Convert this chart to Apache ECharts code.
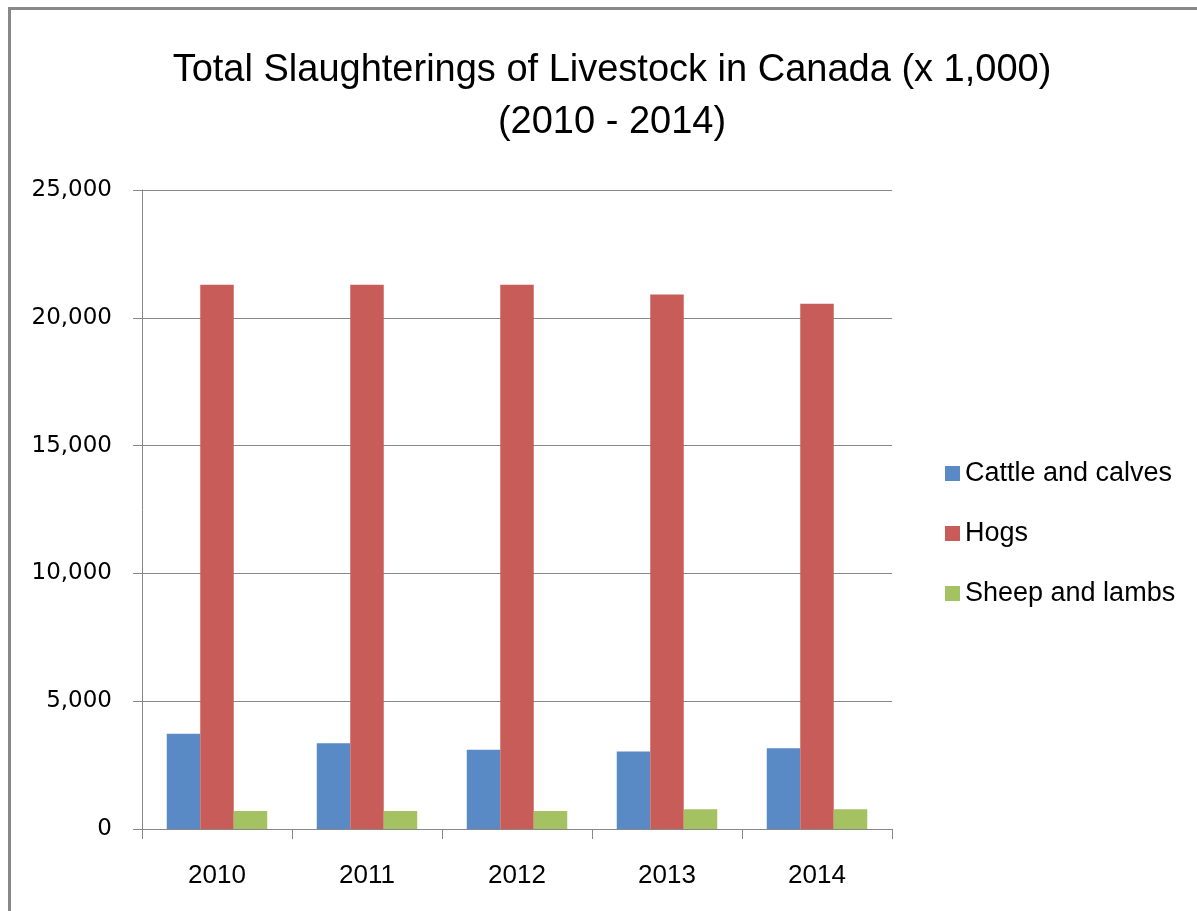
<!DOCTYPE html>
<html>
<head>
<meta charset="utf-8">
<script src="https://cdn.jsdelivr.net/npm/echarts@6/dist/echarts.min.js"></script>
<style>
html, body { margin: 0; padding: 0; background: #fff; }
#main { width: 1197px; height: 911px; }
</style>
</head>
<body>
<div id="main"></div>
<script>
// data (x 1,000 head)
var years = ['2010', '2011', '2012', '2013', '2014'];
var cattle = [3730, 3350, 3105, 3030, 3160];
var hogs = [21290, 21290, 21290, 20910, 20550];
var sheep = [700, 700, 700, 770, 770];
var yTicks = [0, 5000, 10000, 15000, 20000, 25000];

var myChart = echarts.init(document.getElementById('main'));

var font = '"Liberation Sans Narrow", "Liberation Sans", sans-serif';

option = {
    backgroundColor: '#fff',
    animation: false,
    color: ['#5a8ac6', '#c85c58', '#a5c263'],
    title: {
        text: 'Total Slaughterings of Livestock in Canada (x 1,000)\n(2010 - 2014)',
        left: 607,
        textAlign: 'center',
        top: 40,
        textStyle: {
            fontFamily: font,
            fontWeight: 'normal',
            fontSize: 38,
            lineHeight: 52,
            color: '#000'
        }
    },
    legend: {
        orient: 'vertical',
        left: 940,
        top: 455,
        itemWidth: 15,
        itemHeight: 15,
        itemGap: 33,
        icon: 'rect',
        textStyle: { fontFamily: font, fontSize: 27, color: '#000' },
        data: ['Cattle and calves', 'Hogs', 'Sheep and lambs']
    },
    grid: { left: 142, right: 305, top: 190, bottom: 82, containLabel: false },
    xAxis: {
        type: 'category',
        data: years,
        axisLine: { lineStyle: { color: '#888', width: 1 } },
        axisTick: { show: true, length: 10, lineStyle: { color: '#888' } },
        axisLabel: { fontFamily: font, fontSize: 26, color: '#000', margin: 34 }
    },
    yAxis: {
        type: 'value',
        min: yTicks[0],
        max: yTicks[yTicks.length - 1],
        interval: 5000,
        axisLine: { show: true, lineStyle: { color: '#888', width: 1 } },
        axisTick: { show: true, inside: false, length: 9, lineStyle: { color: '#888' } },
        splitLine: { lineStyle: { color: '#888', width: 1 } },
        axisLabel: {
            fontFamily: '"DejaVu Sans", sans-serif',
            fontSize: 23,
            color: '#000',
            margin: 30,
            formatter: function (v) { return v.toLocaleString('en-US'); }
        }
    },
    series: [
        { name: 'Cattle and calves', type: 'bar', data: cattle, barGap: '0%', barCategoryGap: '33%' },
        { name: 'Hogs', type: 'bar', data: hogs, barGap: '0%', barCategoryGap: '33%' },
        { name: 'Sheep and lambs', type: 'bar', data: sheep, barGap: '0%', barCategoryGap: '33%' }
    ],
    graphic: [
        {
            type: 'rect',
            left: 7,
            top: 6,
            shape: { width: 1200, height: 920 },
            style: { fill: 'none', stroke: '#888', lineWidth: 3 },
            silent: true
        }
    ]
};

myChart.setOption(option);
</script>
</body>
</html>
